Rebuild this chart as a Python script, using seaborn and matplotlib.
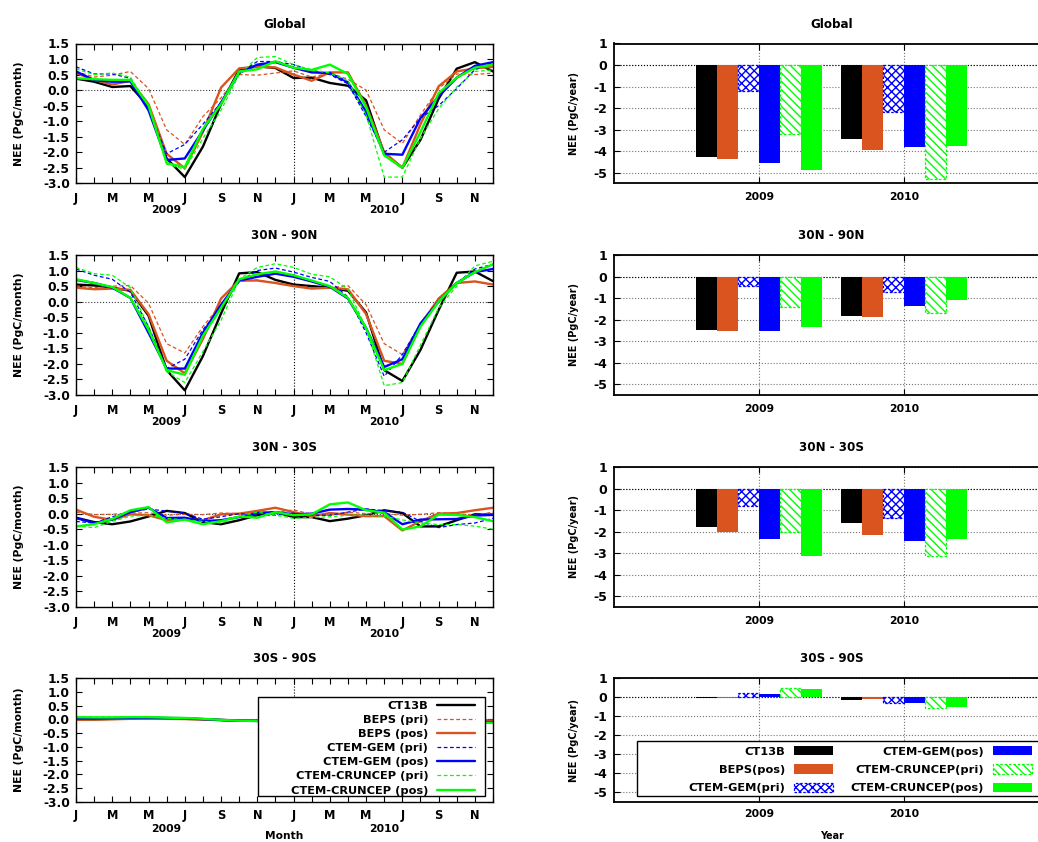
import numpy as np
import pandas as pd
import matplotlib
matplotlib.use("Agg")
import matplotlib.pyplot as plt
import seaborn as sns
from matplotlib.patches import Rectangle

sns.set_theme(style="ticks")
plt.rcParams["font.family"] = ["DejaVu Sans"]
plt.rcParams["font.weight"] = "bold"
plt.rcParams["axes.unicode_minus"] = False
plt.rcParams["hatch.linewidth"] = 1.0
for key in ("text.color", "axes.labelcolor", "xtick.color", "ytick.color",
            "xtick.labelcolor", "ytick.labelcolor"):
    plt.rcParams[key] = "black"

# ---------------------------------------------------------------- data
MONTHS = list(range(24))                      # Jan 2009 .. Dec 2010
MONTH_TICK_LABELS = ["J", "M", "M", "J", "S", "N"] * 2
YEARS = [2009, 2010]
YEAR_LABEL_MONTHS = [5, 17]
REGIONS = ["Global", "30N - 90N", "30N - 30S", "30S - 90S"]

LINE_MODELS = ["CT13B", "BEPS (pri)", "BEPS (pos)", "CTEM-GEM (pri)",
               "CTEM-GEM (pos)", "CTEM-CRUNCEP (pri)", "CTEM-CRUNCEP (pos)"]
BAR_MODELS = ["CT13B", "BEPS(pos)", "CTEM-GEM(pri)", "CTEM-GEM(pos)",
              "CTEM-CRUNCEP(pri)", "CTEM-CRUNCEP(pos)"]

# monthly NEE (PgC/month) -- Global
glb_ct13b    = [0.37, 0.27, 0.10, 0.13, -0.53, -2.20, -2.80, -1.82, -0.45, 0.66, 0.77, 0.71,
                0.39, 0.40, 0.23, 0.14, -0.33, -2.06, -2.50, -1.60, -0.28, 0.69, 0.90, 0.60]
glb_beps_pri = [0.60, 0.42, 0.48, 0.60, 0.05, -1.28, -1.75, -0.85, -0.25, 0.50, 0.48, 0.55,
                0.62, 0.42, 0.55, 0.35, 0.00, -1.28, -1.72, -0.80, 0.05, 0.52, 0.50, 0.55]
glb_beps_pos = [0.55, 0.33, 0.18, 0.30, -0.45, -2.05, -2.52, -1.35, 0.08, 0.70, 0.75, 0.73,
                0.50, 0.30, 0.57, 0.57, -0.50, -2.00, -2.50, -1.10, 0.12, 0.60, 0.70, 0.75]
glb_gem_pri  = [0.75, 0.52, 0.52, 0.38, -0.60, -2.05, -1.75, -1.10, -0.40, 0.55, 0.92, 0.92,
                0.82, 0.62, 0.50, 0.20, -0.85, -2.00, -1.60, -0.90, -0.50, 0.05, 0.66, 0.88]
glb_gem_pos  = [0.60, 0.32, 0.27, 0.28, -0.65, -2.25, -2.20, -1.30, -0.40, 0.55, 0.82, 0.90,
                0.72, 0.57, 0.55, 0.25, -0.70, -2.05, -2.08, -0.90, -0.20, 0.40, 0.78, 0.90]
glb_cru_pri  = [0.68, 0.50, 0.55, 0.42, -0.50, -2.38, -2.55, -1.55, -0.65, 0.50, 1.05, 1.08,
                0.82, 0.65, 0.55, 0.30, -0.80, -2.80, -2.80, -1.55, -0.60, 0.10, 0.60, 0.65]
glb_cru_pos  = [0.38, 0.35, 0.33, 0.33, -0.50, -2.35, -2.48, -1.25, -0.45, 0.60, 0.67, 0.93,
                0.72, 0.65, 0.82, 0.52, -0.55, -2.10, -2.50, -1.35, -0.10, 0.40, 0.72, 0.82]

# monthly NEE -- 30N - 90N
nh_ct13b    = [0.55, 0.52, 0.45, 0.35, -0.45, -2.20, -2.85, -1.75, -0.38, 0.91, 0.95, 0.70,
               0.55, 0.50, 0.45, 0.35, -0.35, -2.20, -2.55, -1.55, -0.27, 0.93, 0.97, 0.66]
nh_beps_pri = [0.50, 0.45, 0.50, 0.52, -0.05, -1.35, -1.65, -0.80, -0.10, 0.65, 0.70, 0.60,
               0.50, 0.45, 0.45, 0.52, -0.10, -1.35, -1.70, -0.70, 0.10, 0.60, 0.65, 0.55]
nh_beps_pos = [0.45, 0.40, 0.42, 0.38, -0.40, -1.90, -2.30, -1.20, 0.10, 0.68, 0.68, 0.60,
               0.50, 0.42, 0.45, 0.40, -0.40, -1.90, -2.00, -0.75, 0.10, 0.60, 0.65, 0.55]
nh_gem_pri  = [1.05, 0.85, 0.72, 0.30, -0.80, -2.15, -1.85, -0.90, -0.20, 0.65, 1.00, 1.08,
               0.95, 0.78, 0.65, 0.15, -1.00, -2.40, -1.70, -0.70, 0.00, 0.60, 1.05, 1.20]
nh_gem_pos  = [0.70, 0.60, 0.45, 0.12, -1.00, -2.15, -2.15, -1.00, -0.10, 0.68, 0.80, 0.90,
               0.80, 0.65, 0.48, 0.10, -0.85, -2.10, -1.85, -0.70, 0.00, 0.60, 0.95, 1.05]
nh_cru_pri  = [1.10, 0.90, 0.85, 0.45, -0.80, -2.25, -2.60, -1.60, -0.60, 0.72, 1.10, 1.22,
               1.10, 0.88, 0.80, 0.40, -0.85, -2.70, -2.60, -1.40, -0.20, 0.50, 1.15, 1.30]
nh_cru_pos  = [0.72, 0.60, 0.47, 0.12, -0.90, -2.20, -2.35, -1.10, -0.20, 0.72, 0.88, 0.97,
               0.85, 0.68, 0.50, 0.12, -0.85, -2.20, -2.00, -0.80, 0.00, 0.60, 0.95, 1.20]

# monthly NEE -- 30N - 30S
tr_ct13b    = [-0.13, -0.27, -0.34, -0.25, -0.09, 0.09, 0.02, -0.27, -0.34, -0.21, -0.05, 0.05,
               -0.11, -0.11, -0.24, -0.16, -0.05, 0.11, 0.02, -0.41, -0.41, -0.21, -0.02, -0.03]
tr_beps_pri = [0.05, -0.03, -0.02, 0.02, 0.03, -0.05, -0.02, -0.03, 0.02, 0.00, 0.05, 0.05,
               0.12, -0.02, -0.05, 0.05, 0.00, 0.00, -0.05, -0.02, 0.03, 0.00, -0.05, 0.05]
tr_beps_pos = [0.13, -0.10, -0.20, -0.02, -0.05, -0.21, -0.17, -0.21, -0.02, 0.00, 0.09, 0.19,
               0.05, -0.08, 0.02, -0.03, -0.08, -0.08, -0.54, -0.24, 0.00, 0.02, 0.11, 0.19]
tr_gem_pri  = [-0.25, -0.30, -0.10, 0.05, 0.15, 0.08, 0.02, -0.18, -0.10, 0.00, -0.05, -0.05,
               0.02, -0.05, -0.05, 0.05, 0.15, 0.10, 0.05, -0.25, -0.45, -0.35, -0.30, -0.15]
tr_gem_pos  = [-0.14, -0.30, -0.19, 0.05, 0.19, -0.14, -0.13, -0.24, -0.21, -0.11, 0.02, 0.05,
               -0.02, 0.00, 0.13, 0.15, 0.13, 0.05, -0.34, -0.19, -0.18, -0.17, -0.06, -0.04]
tr_cru_pri  = [-0.40, -0.45, -0.25, -0.08, -0.05, -0.15, -0.20, -0.25, -0.30, -0.10, 0.05, -0.05,
               -0.15, -0.12, -0.10, -0.05, -0.05, -0.08, -0.20, -0.30, -0.35, -0.35, -0.40, -0.50]
tr_cru_pos  = [-0.41, -0.34, -0.17, 0.11, 0.21, -0.28, -0.19, -0.34, -0.24, -0.09, -0.13, 0.05,
               -0.05, -0.02, 0.30, 0.36, 0.11, 0.03, -0.51, -0.41, -0.03, -0.04, -0.11, -0.24]

# monthly NEE -- 30S - 90S
sh_ct13b    = [0.00, 0.00, 0.02, 0.03, 0.04, 0.03, 0.02, 0.00, -0.03, -0.05, -0.05, -0.04,
               -0.03, -0.02, 0.00, 0.01, 0.02, 0.02, 0.01, -0.01, -0.03, -0.05, -0.06, -0.08]
sh_beps_pri = [0.02, 0.02, 0.03, 0.04, 0.04, 0.03, 0.02, 0.00, -0.02, -0.03, -0.04, -0.03,
               -0.02, -0.01, 0.00, 0.01, 0.02, 0.02, 0.01, 0.00, -0.02, -0.03, -0.04, -0.04]
sh_beps_pos = [-0.02, -0.01, 0.00, 0.02, 0.02, 0.02, 0.01, 0.00, -0.02, -0.04, -0.04, -0.04,
               -0.03, -0.02, -0.01, 0.00, 0.01, 0.01, 0.00, -0.01, -0.02, -0.03, -0.04, -0.05]
sh_gem_pri  = [0.05, 0.05, 0.06, 0.07, 0.07, 0.06, 0.05, 0.02, -0.02, -0.05, -0.06, -0.06,
               -0.05, -0.03, -0.02, 0.00, 0.01, 0.01, 0.00, -0.02, -0.05, -0.07, -0.08, -0.09]
sh_gem_pos  = [0.03, 0.03, 0.04, 0.05, 0.06, 0.05, 0.04, 0.01, -0.02, -0.05, -0.06, -0.06,
               -0.05, -0.04, -0.02, 0.00, 0.01, 0.01, 0.00, -0.02, -0.05, -0.07, -0.09, -0.10]
sh_cru_pri  = [0.10, 0.09, 0.09, 0.10, 0.09, 0.07, 0.05, 0.02, -0.02, -0.05, -0.07, -0.08,
               -0.07, -0.05, -0.03, -0.01, 0.00, 0.00, -0.02, -0.04, -0.07, -0.10, -0.12, -0.14]
sh_cru_pos  = [0.08, 0.07, 0.07, 0.08, 0.08, 0.06, 0.05, 0.02, -0.02, -0.05, -0.06, -0.07,
               -0.06, -0.04, -0.02, 0.00, 0.01, 0.01, -0.01, -0.03, -0.06, -0.09, -0.11, -0.13]

# annual NEE (PgC/year), one value per BAR_MODELS entry
glb_2009 = [-4.28, -4.38, -1.22, -4.55, -3.20, -4.88]
glb_2010 = [-3.45, -3.95, -2.20, -3.82, -5.28, -3.77]
nh_2009 = [-2.49, -2.55, -0.46, -2.55, -1.43, -2.35]
nh_2010 = [-1.82, -1.86, -0.74, -1.35, -1.69, -1.11]
tr_2009 = [-1.77, -2.00, -0.80, -2.34, -2.00, -3.12]
tr_2010 = [-1.60, -2.15, -1.35, -2.43, -3.15, -2.34]
sh_2009 = [-0.07, -0.03, 0.21, 0.16, 0.47, 0.42]
sh_2010 = [-0.16, -0.10, -0.30, -0.31, -0.56, -0.50]

# ---------------------------------------------------------------- styles
BLACK, ORANGE, BLUE, GREEN = "#000000", "#D9541E", "#0000FF", "#00FF00"
LINE_COLORS = [BLACK, ORANGE, ORANGE, BLUE, BLUE, GREEN, GREEN]
LINE_DASHED = [False, True, False, True, False, True, False]
BAR_COLORS = [BLACK, ORANGE, BLUE, BLUE, GREEN, GREEN]
BAR_HATCH = [None, None, "xxxx", None, "\\\\\\\\", None]
GROUP_WIDTH = 0.87

monthly = {
    "Global": [glb_ct13b, glb_beps_pri, glb_beps_pos, glb_gem_pri, glb_gem_pos, glb_cru_pri, glb_cru_pos],
    "30N - 90N": [nh_ct13b, nh_beps_pri, nh_beps_pos, nh_gem_pri, nh_gem_pos, nh_cru_pri, nh_cru_pos],
    "30N - 30S": [tr_ct13b, tr_beps_pri, tr_beps_pos, tr_gem_pri, tr_gem_pos, tr_cru_pri, tr_cru_pos],
    "30S - 90S": [sh_ct13b, sh_beps_pri, sh_beps_pos, sh_gem_pri, sh_gem_pos, sh_cru_pri, sh_cru_pos],
}
annual = {
    "Global": (glb_2009, glb_2010),
    "30N - 90N": (nh_2009, nh_2010),
    "30N - 30S": (tr_2009, tr_2010),
    "30S - 90S": (sh_2009, sh_2010),
}

# ---------------------------------------------------------------- layout
W, H = 1038, 842
fig = plt.figure(figsize=(W / 100, H / 100), dpi=100)
fig.patch.set_facecolor("white")


def px_axes(x0, x1, y0, y1):
    return fig.add_axes([x0 / W, 1 - y1 / H, (x1 - x0) / W, (y1 - y0) / H])


ROWS = [(43.5, 183.3), (255, 395), (467, 607), (678, 802)]
LEFT_X = (76, 493)
RIGHT_X = (614, 1049)

for r, region in enumerate(REGIONS):
    top, bot = ROWS[r]
    last = r == len(REGIONS) - 1

    # ---------------- monthly lines
    ax = px_axes(LEFT_X[0], LEFT_X[1], top, bot)
    ax.set_facecolor("white")
    for name, vals, color, dashed in zip(LINE_MODELS, monthly[region], LINE_COLORS, LINE_DASHED):
        sns.lineplot(x=MONTHS, y=vals, ax=ax, color=color, label=name, legend=False,
                     linewidth=0.9 if dashed else 1.7,
                     linestyle=(0, (3, 2)) if dashed else "-", zorder=2)
    ax.axhline(0, color="0.25", ls=":", lw=0.8, zorder=1)
    ax.axvline(12, color="black", ls=":", lw=0.8, zorder=1)
    ax.set_xlim(0, 23)
    ax.set_ylim(-3.0, 1.5)
    ax.set_xticks(range(0, 24, 2))
    ax.set_xticklabels(MONTH_TICK_LABELS)
    ax.set_xticks(range(1, 24, 2), minor=True)
    yt = np.arange(-3.0, 1.51, 0.5)
    ax.set_yticks(yt)
    ax.set_yticklabels([f"{v:.1f}" for v in yt])
    ax.tick_params(which="both", direction="in", top=True, right=True,
                   length=4, width=0.8, color="black", labelcolor="black")
    ax.tick_params(axis="x", labelsize=8.3, pad=4.9 if last else 6.5)
    ax.tick_params(axis="y", labelsize=8.8, pad=4.5)
    for s in ax.spines.values():
        s.set_color("black")
        s.set_linewidth(1.0)
    ax.set_title(region, fontsize=8.6, fontweight="bold", pad=11.5, color="black")
    ax.set_ylabel("NEE (PgC/month)", fontsize=7.8, fontweight="bold", color="black")
    ax.yaxis.set_label_coords(-0.125, 0.5)
    ax.set_xlabel("")
    for yr, xm in zip(YEARS, YEAR_LABEL_MONTHS):
        ax.annotate(str(yr), xy=(xm, 0), xycoords=("data", "axes fraction"),
                    xytext=(0, -19.5), textcoords="offset points", color="black",
                    ha="center", va="center", fontsize=7.8, fontweight="bold")
    if last:
        ax.set_xlabel("Month", fontsize=7.7, fontweight="bold", color="black")
        ax.xaxis.set_label_coords(0.5, -0.234)
        line_handles, line_labels = ax.get_legend_handles_labels()
        ax.add_patch(Rectangle((0.436, 0.048), 0.545, 0.799, transform=ax.transAxes,
                               facecolor="white", edgecolor="black", lw=1.0, zorder=4))
        leg = ax.legend(line_handles, line_labels, loc="upper right",
                        bbox_to_anchor=(0.957, 0.815), markerfirst=False, frameon=False,
                        fontsize=8.2, handlelength=3.3, handletextpad=0.8,
                        labelspacing=0.36, borderpad=0, borderaxespad=0,
                        labelcolor="black")
        leg.set_zorder(5)

    # ---------------- annual bars
    axb = px_axes(RIGHT_X[0], RIGHT_X[1], top, bot)
    axb.set_facecolor("white")
    v09, v10 = annual[region]
    df = pd.DataFrame({
        "year": [YEARS[0]] * len(BAR_MODELS) + [YEARS[1]] * len(BAR_MODELS),
        "model": BAR_MODELS * 2,
        "nee": list(v09) + list(v10),
    })
    sns.barplot(data=df, x="year", y="nee", hue="model", hue_order=BAR_MODELS,
                palette=dict(zip(BAR_MODELS, BAR_COLORS)), native_scale=True,
                width=GROUP_WIDTH, gap=0, errorbar=None, legend=False,
                saturation=1, linewidth=0, ax=axb)
    step = GROUP_WIDTH / len(BAR_MODELS)
    first_patch = {}
    for p in axb.patches:
        cx = p.get_x() + p.get_width() / 2
        k = int(round((cx - round(cx) + GROUP_WIDTH / 2) / step - 0.5))
        k = min(max(k, 0), len(BAR_MODELS) - 1)
        if BAR_HATCH[k]:
            p.set_facecolor("white")
            p.set_edgecolor(BAR_COLORS[k])
            p.set_hatch(BAR_HATCH[k])
            p.set_linestyle((0, (2, 1.5)))
            p.set_linewidth(0.9)
        else:
            p.set_edgecolor(BAR_COLORS[k])
            p.set_linewidth(0)
        first_patch.setdefault(k, p)

    axb.set_axisbelow(True)
    axb.grid(True, color="0.45", ls=":", lw=0.8)
    axb.axhline(0, color="black", ls=":", lw=0.8, zorder=0.6)
    axb.set_xlim(2008, 2011)
    axb.set_ylim(-5.5, 1)
    axb.set_xticks(YEARS)
    axb.set_xticklabels([str(y) for y in YEARS])
    axb.set_yticks(range(-5, 2))
    axb.set_yticklabels([str(v) for v in range(-5, 2)])
    axb.tick_params(which="both", direction="in", top=True, right=True,
                    length=4, width=0.8, color="black", labelcolor="black")
    axb.tick_params(axis="x", labelsize=7.8, pad=5.3 if last else 6.3)
    axb.tick_params(axis="y", labelsize=9, pad=5)
    for s in axb.spines.values():
        s.set_color("black")
        s.set_linewidth(1.3)
    axb.set_title(region, fontsize=8.6, fontweight="bold", pad=11.5, color="black")
    axb.set_ylabel("NEE (PgC/year)", fontsize=7, fontweight="bold", color="black")
    axb.yaxis.set_label_coords(-0.081, 0.5)
    axb.set_xlabel("")
    if last:
        axb.set_xlabel("Year", fontsize=6.9, fontweight="bold", color="black")
        axb.xaxis.set_label_coords(0.5, -0.234)
        bar_handles = [first_patch[k] for k in range(len(BAR_MODELS))]
        axb.add_patch(Rectangle((0.053, 0.048), 1.0, 0.444, transform=axb.transAxes,
                                facecolor="white", edgecolor="black", lw=1.0, zorder=4,
                                clip_on=False))
        legb = axb.legend(bar_handles, BAR_MODELS, ncol=2, loc="upper right",
                          bbox_to_anchor=(0.961, 0.452), markerfirst=False, frameon=False,
                          fontsize=8.2, handlelength=3.4, handleheight=0.9,
                          handletextpad=0.8, columnspacing=1.6, labelspacing=0.68,
                          borderpad=0, borderaxespad=0, labelcolor="black")
        legb.set_zorder(5)

fig.savefig("out.png", dpi=100, facecolor="white")
